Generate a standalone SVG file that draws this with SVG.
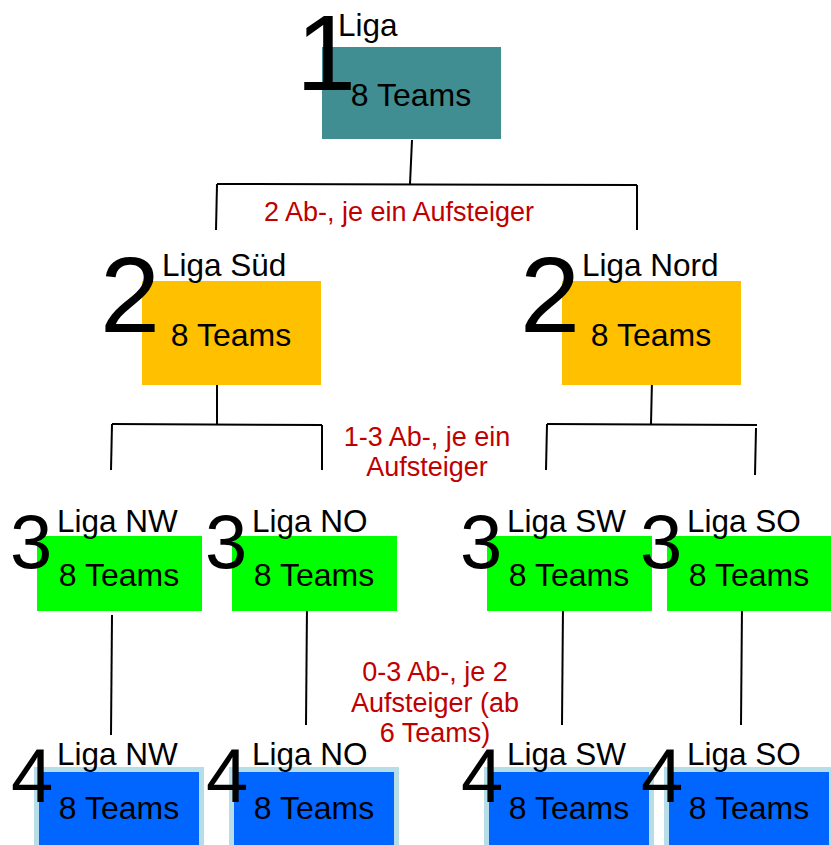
<svg xmlns="http://www.w3.org/2000/svg" width="831" height="845" viewBox="0 0 831 845">
<style>
text{font-family:"Liberation Sans",Arial,sans-serif;fill:#000}
.big1{font-size:108px}
.big3{font-size:76px}
.lbl{font-size:31.5px}
.teams{font-size:32px;text-anchor:middle}
.red{font-size:27px;fill:#C00000;text-anchor:middle}
.l1{fill:#408D92}
.l2{fill:#FFC000}
.l3{fill:#00FF00}
.l4{fill:#0066FF;stroke:#B7DEE8;stroke-width:5}
.c line{stroke:#000;stroke-width:2}
</style>
<rect width="831" height="845" fill="#fff"/>
<g class="c" id="connectors">
<line x1="412" y1="140" x2="410" y2="184"/>
<line x1="217" y1="184" x2="637" y2="185"/>
<line x1="217" y1="184" x2="216" y2="230"/>
<line x1="637" y1="185" x2="637" y2="230"/>
<line x1="217" y1="380" x2="217" y2="424"/>
<line x1="112" y1="424" x2="322" y2="425"/>
<line x1="112" y1="424" x2="111" y2="470"/>
<line x1="322" y1="425" x2="322" y2="470"/>
<line x1="652" y1="380" x2="651" y2="424"/>
<line x1="547" y1="424" x2="757" y2="425"/>
<line x1="547" y1="424" x2="546" y2="470"/>
<line x1="756" y1="428" x2="755" y2="475"/>
<line x1="112" y1="615" x2="111" y2="735"/>
<line x1="307" y1="605" x2="306" y2="725"/>
<line x1="563" y1="605" x2="562" y2="725"/>
<line x1="742" y1="605" x2="741" y2="725"/>
</g>
<g id="label-l1">
<text class="red" x="399" y="221">2 Ab-, je ein Aufsteiger</text>
</g>
<g id="label-l2">
<text class="red" x="427" y="446">1-3 Ab-, je ein</text>
<text class="red" x="427" y="476">Aufsteiger</text>
</g>
<g id="label-l3">
<text class="red" x="435" y="681">0-3 Ab-, je 2</text>
<text class="red" x="435" y="712">Aufsteiger (ab</text>
<text class="red" x="435" y="742">6 Teams)</text>
</g>
<g id="liga1">
<rect class="l1" x="322" y="47" width="179" height="92"/>
<text class="big1" x="296" y="90">1</text>
<text class="lbl" x="338" y="36">Liga</text>
<text class="teams" x="411" y="106">8 Teams</text>
</g>
<g id="liga2-sued">
<rect class="l2" x="142" y="281" width="179" height="104"/>
<text class="big1" x="100" y="332">2</text>
<text class="lbl" x="162" y="276">Liga Süd</text>
<text class="teams" x="231" y="346">8 Teams</text>
</g>
<g id="liga2-nord">
<rect class="l2" x="562" y="281" width="179" height="104"/>
<text class="big1" x="520" y="332">2</text>
<text class="lbl" x="582" y="276">Liga Nord</text>
<text class="teams" x="651" y="346">8 Teams</text>
</g>
<g id="liga3-nw">
<rect class="l3" x="37" y="536" width="165" height="75"/>
<text class="big3" x="10" y="568">3</text>
<text class="lbl" x="57" y="532">Liga NW</text>
<text class="teams" x="119" y="586">8 Teams</text>
</g>
<g id="liga3-no">
<rect class="l3" x="232" y="536" width="165" height="75"/>
<text class="big3" x="205" y="568">3</text>
<text class="lbl" x="252" y="532">Liga NO</text>
<text class="teams" x="314" y="586">8 Teams</text>
</g>
<g id="liga3-sw">
<rect class="l3" x="487" y="536" width="165" height="75"/>
<text class="big3" x="460" y="568">3</text>
<text class="lbl" x="507" y="532">Liga SW</text>
<text class="teams" x="569" y="586">8 Teams</text>
</g>
<g id="liga3-so">
<rect class="l3" x="667" y="536" width="164" height="75"/>
<text class="big3" x="640" y="568">3</text>
<text class="lbl" x="687" y="532">Liga SO</text>
<text class="teams" x="749" y="586">8 Teams</text>
</g>
<g id="liga4-nw">
<rect class="l4" x="36.5" y="769.5" width="165" height="80"/>
<text class="big3" x="11" y="802">4</text>
<text class="lbl" x="57" y="765">Liga NW</text>
<text class="teams" x="119" y="819">8 Teams</text>
</g>
<g id="liga4-no">
<rect class="l4" x="231.5" y="769.5" width="165" height="80"/>
<text class="big3" x="206" y="802">4</text>
<text class="lbl" x="252" y="765">Liga NO</text>
<text class="teams" x="314" y="819">8 Teams</text>
</g>
<g id="liga4-sw">
<rect class="l4" x="486.5" y="769.5" width="165" height="80"/>
<text class="big3" x="461" y="802">4</text>
<text class="lbl" x="507" y="765">Liga SW</text>
<text class="teams" x="569" y="819">8 Teams</text>
</g>
<g id="liga4-so">
<rect class="l4" x="666.5" y="769.5" width="165" height="80"/>
<text class="big3" x="641" y="802">4</text>
<text class="lbl" x="687" y="765">Liga SO</text>
<text class="teams" x="749" y="819">8 Teams</text>
</g>
</svg>
